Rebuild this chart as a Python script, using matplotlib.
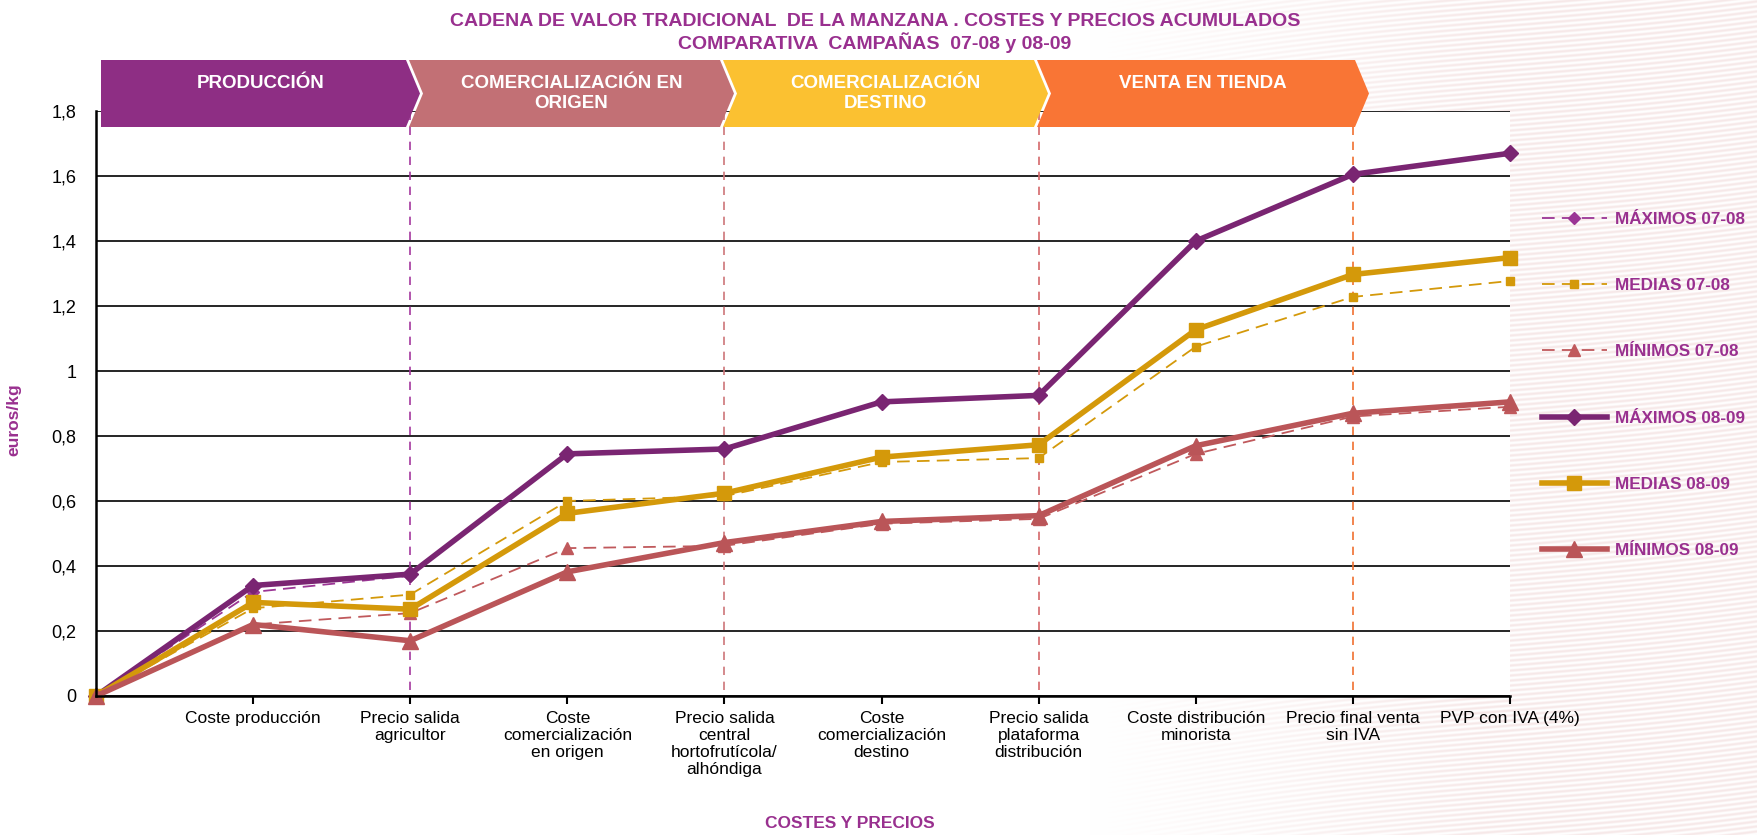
import numpy as np
import matplotlib
matplotlib.use("Agg")
import matplotlib.pyplot as plt
from matplotlib.patches import Polygon

plt.rcParams['font.family'] = ['Liberation Sans', 'DejaVu Sans']

# data (euros/kg, cumulative)
categorias = ["", "Coste producción", "Precio salida\nagricultor",
              "Coste\ncomercialización\nen origen",
              "Precio salida\ncentral\nhortofrutícola/\nalhóndiga",
              "Coste\ncomercialización\ndestino",
              "Precio salida\nplataforma\ndistribución",
              "Coste distribución\nminorista", "Precio final venta\nsin IVA",
              "PVP con IVA (4%)"]
maximos_0708 = [0, 0.32, 0.37, 0.745, 0.76, 0.905, 0.925, 1.40, 1.605, 1.67]
medias_0708 = [0, 0.27, 0.312, 0.60, 0.615, 0.72, 0.732, 1.075, 1.228, 1.277]
minimos_0708 = [0, 0.22, 0.255, 0.455, 0.462, 0.53, 0.545, 0.745, 0.86, 0.89]
maximos_0809 = [0, 0.34, 0.375, 0.745, 0.76, 0.905, 0.925, 1.40, 1.605, 1.67]
medias_0809 = [0, 0.288, 0.267, 0.562, 0.624, 0.735, 0.773, 1.127, 1.297, 1.349]
minimos_0809 = [0, 0.22, 0.17, 0.382, 0.472, 0.537, 0.555, 0.77, 0.87, 0.905]

y_ticks = [0, 0.2, 0.4, 0.6, 0.8, 1.0, 1.2, 1.4, 1.6, 1.8]
y_labels = ["0", "0,2", "0,4", "0,6", "0,8", "1", "1,2", "1,4", "1,6", "1,8"]

fases = ["PRODUCCIÓN", "COMERCIALIZACIÓN EN\nORIGEN", "COMERCIALIZACIÓN\nDESTINO", "VENTA EN TIENDA"]
fase_colores = ["#8E2E84", "#C27075", "#FBC131", "#F97535"]
separadores = [2, 4, 6, 8]
sep_colores = ["#A4389E", "#CD7579", "#D4676A", "#F07030"]

W, H = 1757, 835
TITLE_C = "#99308F"
C_MAX, C_MED, C_MIN = "#7A2572", "#D4990A", "#BA5558"

fig = plt.figure(figsize=(W / 100, H / 100), dpi=100)

# faint striped background on the right (decoration)
bg = fig.add_axes([0, 0, 1, 1], zorder=-10)
yy, xx = np.mgrid[0:H, 0:W]
stripes = 0.5 + 0.5 * np.sin(2 * np.pi * (yy + 0.13 * xx + 8 * np.sin(xx / 160.0)) / 5.0)
mask = np.clip((xx / W - 0.62) / 0.22, 0, 1) * 0.55
pink = np.array([0.94, 0.84, 0.84])
img = 1 - (mask * stripes)[..., None] * (1 - pink)
bg.imshow(img, aspect='auto', extent=[0, 1, 0, 1], origin='upper')
bg.axis('off')

ax = fig.add_axes([96 / W, 1 - 696 / H, (1510 - 96) / W, (696 - 111) / H])
ax.set_facecolor('white')
x = np.arange(len(categorias))

ax.plot(x, maximos_0708, color="#9B3595", lw=1.3, ls=(0, (7, 4)), marker='D', ms=6, label="MÁXIMOS 07-08", clip_on=False)
ax.plot(x, medias_0708, color=C_MED, lw=1.3, ls=(0, (7, 4)), marker='s', ms=6, label="MEDIAS 07-08", clip_on=False)
ax.plot(x, minimos_0708, color="#C0595C", lw=1.3, ls=(0, (7, 4)), marker='^', ms=8, label="MÍNIMOS 07-08", clip_on=False)
ax.plot(x, maximos_0809, color=C_MAX, lw=4, marker='D', ms=8, label="MÁXIMOS 08-09", clip_on=False)
ax.plot(x, medias_0809, color=C_MED, lw=4, marker='s', ms=10, label="MEDIAS 08-09", clip_on=False)
ax.plot(x, minimos_0809, color=C_MIN, lw=4, marker='^', ms=11, label="MÍNIMOS 08-09", clip_on=False)

for s, c in zip(separadores, sep_colores):
    ax.plot([s, s], [0.02, 1.85], color=c, lw=1.2, ls=(0, (5, 4)), zorder=1, clip_on=False)

ax.set_xlim(0, 9)
ax.set_ylim(0, 1.8)
ax.set_yticks(y_ticks)
ax.set_yticklabels(y_labels)
ax.set_xticks(x)
ax.set_xticklabels(categorias, fontsize=12.5, linespacing=1.15)
ax.tick_params(axis='y', length=0, pad=14, labelsize=13)
ax.tick_params(axis='x', length=6, width=1.5, direction='out', pad=5)
ax.yaxis.grid(True, color='black', lw=1.2)
ax.set_axisbelow(True)
for side in ['top', 'right']:
    ax.spines[side].set_visible(False)
for side in ['left', 'bottom']:
    ax.spines[side].set_linewidth(1.8)
    ax.spines[side].set_zorder(5)

leg = ax.legend(loc='center left', bbox_to_anchor=(1542 / W, 1 - 385 / H), bbox_transform=fig.transFigure,
                frameon=False, fontsize=12.3, labelspacing=3.0, handlelength=3.8, handletextpad=0.5,
                borderpad=0, borderaxespad=0)
for t in leg.get_texts():
    t.set_color(TITLE_C)
    t.set_fontweight('bold')

# phase banner (chevrons)
bx = [(101, 406), (409, 720), (723, 1034), (1037, 1355)]
d, y0, y1 = 14, 60, 127
for i, ((a, b), txt, col) in enumerate(zip(bx, fases, fase_colores)):
    pts = [(a, y0), (b, y0), (b + d, (y0 + y1) / 2), (b, y1), (a, y1)]
    if i > 0:
        pts.append((a + d, (y0 + y1) / 2))
    pts = [(px / W, 1 - py / H) for px, py in pts]
    fig.add_artist(Polygon(pts, closed=True, facecolor=col, edgecolor='none',
                           transform=fig.transFigure, zorder=20))
    fig.text((a + b + d) / 2 / W, 1 - 75 / H, txt, color='white', fontsize=13.5, fontweight='bold',
             ha='center', va='top', linespacing=1.2, zorder=21)

fig.text(875 / W, 1 - 21 / H, "CADENA DE VALOR TRADICIONAL  DE LA MANZANA . COSTES Y PRECIOS ACUMULADOS",
         color=TITLE_C, fontsize=14, fontweight='bold', ha='center', va='center')
fig.text(875 / W, 1 - 43 / H, "COMPARATIVA  CAMPAÑAS  07-08 y 08-09",
         color=TITLE_C, fontsize=14, fontweight='bold', ha='center', va='center')
fig.text(14 / W, 1 - 420 / H, "euros/kg", color=TITLE_C, fontsize=12.5, fontweight='bold',
         rotation=90, ha='center', va='center')
fig.text(850 / W, 1 - 823 / H, "COSTES Y PRECIOS", color=TITLE_C, fontsize=12.5, fontweight='bold',
         ha='center', va='center')

fig.savefig("out.png", dpi=100)
